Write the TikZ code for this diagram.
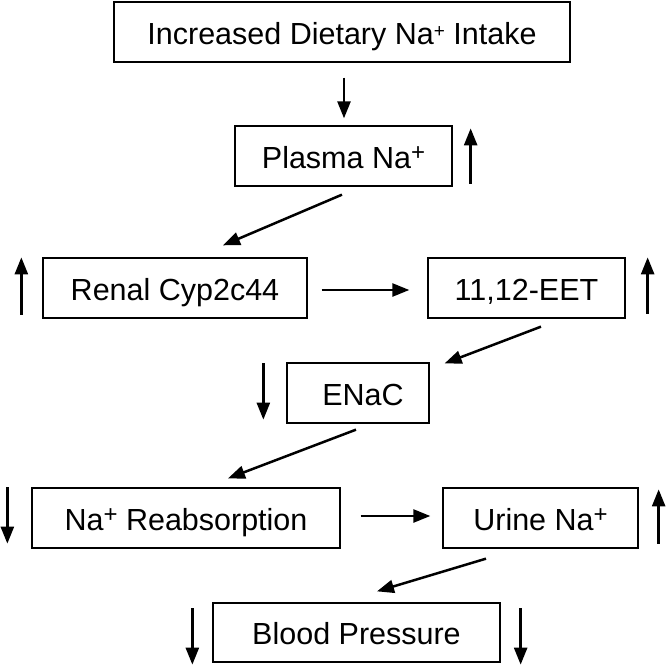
\documentclass[tikz,border=0pt]{standalone}
\usepackage{fontspec}
\setmainfont{Liberation Sans}
\usetikzlibrary{arrows.meta}
\newcommand\bigplus{\raisebox{8pt}{\fontsize{24}{24}\selectfont +}}
\newcommand\smallplus{\raisebox{6.7pt}{\fontsize{19}{19}\selectfont +}}
\tikzset{
  box/.style={draw, line width=1.3pt, minimum height=60pt, inner sep=0pt,
    text height=24pt, text depth=0pt,
    font=\fontsize{30.5}{36}\selectfont},
  arr/.style={line width=2.5pt, -{Triangle[length=17pt,width=13pt]}},
}
\begin{document}
\begin{tikzpicture}[x=1pt,y=-1pt]
\useasboundingbox[fill=white] (0,0) rectangle (667,667);
\node[box, minimum width=456pt] (n1) at (342,32) {Increased Dietary Na\smallplus\ Intake};
\node[box, minimum width=217pt] (n2) at (343.5,156) {Plasma Na\bigplus};
\node[box, minimum width=264pt] (n3) at (175,288) {Renal Cyp2c44};
\node[box, minimum width=197pt] (n4) at (526.5,288) {11,12-EET};
\node[box, minimum width=142pt] (n5) at (358,393) {\hspace*{10pt}ENaC};
\node[box, minimum width=308pt] (n6) at (186,518) {Na\bigplus\ Reabsorption};
\node[box, minimum width=195pt] (n7) at (540.5,518) {Urine Na\bigplus};
\node[box, minimum width=287pt, minimum height=59pt] (n8) at (356.5,632.5) {Blood Pressure};
% connectors
\draw[arr] ([shift={(2,15)}]n1.south) -- ([shift={(0.5,-7)}]n2.north);
\draw[arr] ([shift={(-1.5,8)}]n2.south) -- ([shift={(48,-12)}]n3.north);
\draw[arr] ([shift={(14,2)}]n3.east) -- ([shift={(-18,2)}]n4.west);
\draw[arr] ([shift={(14.5,8)}]n4.south) -- ([shift={(15,1)}]n5.north east);
\draw[arr] ([shift={(-2,6)}]n5.south) -- ([shift={(42,-9)}]n6.north);
\draw[arr] ([shift={(20,-2)}]n6.east) -- ([shift={(-12,-2)}]n7.west);
\draw[arr] ([shift={(-54.5,10)}]n7.south) -- ([shift={(20.5,-11)}]n8.north);
% change indicators
\draw[arr] ([shift={(18,-3)}]n2.south east) -- ([shift={(18,3)}]n2.north east);
\draw[arr] ([shift={(-21,-4)}]n3.south west) -- ([shift={(-21,0)}]n3.north west);
\draw[arr] ([shift={(22,-5)}]n4.south east) -- ([shift={(22,0)}]n4.north east);
\draw[arr] ([shift={(-23,1)}]n5.north west) -- ([shift={(-23,-4)}]n5.south west);
\draw[arr] ([shift={(-24,0)}]n6.north west) -- ([shift={(-24,-5)}]n6.south west);
\draw[arr] ([shift={(20,-5)}]n7.south east) -- ([shift={(20,2)}]n7.north east);
\draw[arr] ([shift={(-20,6)}]n8.north west) -- ([shift={(-20,2)}]n8.south west);
\draw[arr] ([shift={(20,6)}]n8.north east) -- ([shift={(20,2)}]n8.south east);
\end{tikzpicture}
\end{document}
